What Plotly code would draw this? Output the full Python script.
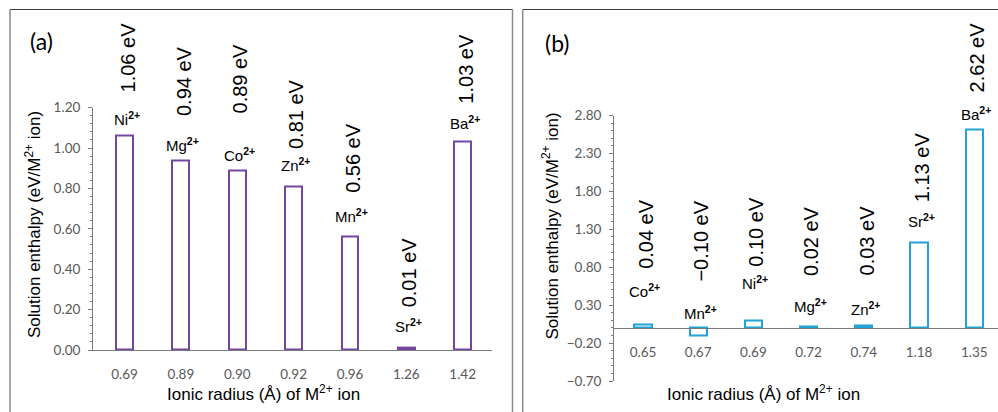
import plotly.graph_objects as go

W, H = 998, 412

# ---------------- data ----------------
ions_a = ["Ni", "Mg", "Co", "Zn", "Mn", "Sr", "Ba"]
radii_a = ["0.69", "0.89", "0.90", "0.92", "0.96", "1.26", "1.42"]
enthalpy_a = [1.06, 0.94, 0.89, 0.81, 0.56, 0.01, 1.03]

ions_b = ["Co", "Mn", "Ni", "Mg", "Zn", "Sr", "Ba"]
radii_b = ["0.65", "0.67", "0.69", "0.72", "0.74", "1.18", "1.35"]
enthalpy_b = [0.04, -0.10, 0.10, 0.02, 0.03, 1.13, 2.62]

# label offsets (pixels above bar end) for the ion names and value labels
ion_gap_a = [10, 8, 8, 14, 14, 15, 12]
val_gap_a = [42, 43, 56, 36, 43, 40, 37]
ion_gap_b = [27, 8, 30, 13, 10, 14, 8]
val_gap_b = [55, 45, 53, 49, 49, 39, 36]

PURPLE = "#7446A2"
BLUE = "#22A3D5"
AXIS = "#7a7a7a"
TICKC = "#595959"
TXT = "Liberation Sans, Arial, sans-serif"
TICKF = "Lato, Carlito, sans-serif"


def px(x):
    return x / W


def py(y):
    return 1 - y / H


fig = go.Figure()
fig.add_trace(go.Bar(x=radii_a, y=enthalpy_a, width=0.3,
                     marker=dict(color="white", line=dict(color=PURPLE, width=2)),
                     xaxis="x", yaxis="y", showlegend=False, hoverinfo="skip"))
fig.add_trace(go.Bar(x=radii_b, y=enthalpy_b, width=0.31,
                     marker=dict(color="white", line=dict(color=BLUE, width=2)),
                     xaxis="x2", yaxis="y2", showlegend=False, hoverinfo="skip"))

ann = []


def fmt(v):
    s = f"{abs(v):.2f} eV"
    return ("\u2212" + s) if v < 0 else s


def labels(ions, vals, ig, vg, xr, yr):
    for i, (ion, v, g1, g2) in enumerate(zip(ions, vals, ig, vg)):
        base = max(v, 0)
        ann.append(dict(x=i, y=base, xref=xr, yref=yr, showarrow=False,
                        text=f"{ion}<sup><b>2+</b></sup>", yanchor="bottom",
                        xanchor="center", yshift=g1 - 4, xshift=2,
                        font=dict(family=TXT, size=15, color="black")))
        ann.append(dict(x=i, y=base, xref=xr, yref=yr, showarrow=False,
                        text=fmt(v), textangle=-90, yanchor="bottom",
                        xanchor="center", yshift=g2 - 1, xshift=3,
                        font=dict(family=TXT, size=20, color="black")))


labels(ions_a, enthalpy_a, ion_gap_a, val_gap_a, "x", "y")
labels(ions_b, enthalpy_b, ion_gap_b, val_gap_b, "x2", "y2")

ytitle = "Solution enthalpy (eV/M<sup>2+</sup> ion)"
xtitle = "Ionic radius (\u00c5) of M<sup>2+</sup> ion"
for (x, y, t, ang, sz, fam) in [
    (33, 225, ytitle, -90, 17, TXT),
    (550, 226.5, ytitle, -90, 17, TXT),
    (263.5, 393, xtitle, 0, 17, TXT),
    (763.5, 393, xtitle, 0, 17, TXT),
    (41, 41, "(a)", 0, 23, TICKF),
    (557.5, 43, "(b)", 0, 23, TICKF),
]:
    ann.append(dict(x=px(x), y=py(y), xref="paper", yref="paper", text=t,
                    textangle=ang, showarrow=False, xanchor="center",
                    yanchor="middle", font=dict(family=fam, size=sz, color="black")))

shapes = [
    # panel (a) frame
    dict(type="line", xref="paper", yref="paper", x0=px(10), x1=px(512.5), y0=py(9.5), y1=py(9.5),
         line=dict(color="#3c3c3c", width=1)),
    dict(type="line", xref="paper", yref="paper", x0=px(10), x1=px(10), y0=py(9.5), y1=-0.05,
         line=dict(color="#8a8a8a", width=1.5)),
    dict(type="line", xref="paper", yref="paper", x0=px(512.5), x1=px(512.5), y0=py(9.5), y1=-0.05,
         line=dict(color="#8a8a8a", width=1.5)),
    # panel (b) frame
    dict(type="line", xref="paper", yref="paper", x0=px(522.7), x1=1.01, y0=py(9.5), y1=py(9.5),
         line=dict(color="#3c3c3c", width=1)),
    dict(type="line", xref="paper", yref="paper", x0=px(522.7), x1=px(522.7), y0=py(9.5), y1=-0.05,
         line=dict(color="#8a8a8a", width=1.5)),
]

common_y = dict(showline=True, linecolor=AXIS, linewidth=1, ticks="outside", ticklen=4,
                tickcolor=AXIS, tickwidth=1, showgrid=False, zeroline=False,
                tickformat=".2f", tickfont=dict(family=TICKF, size=13.5, color=TICKC),
                ticklabelstandoff=5)
common_x = dict(type="category", showline=True, linecolor=AXIS, linewidth=1, ticks="",
                showgrid=False, zeroline=False,
                tickfont=dict(family=TICKF, size=13.5, color=TICKC), ticklabelstandoff=12)

fig.update_layout(
    width=W, height=H, margin=dict(l=0, r=0, t=0, b=0, autoexpand=False),
    paper_bgcolor="white", plot_bgcolor="white", bargap=0,
    xaxis=dict(domain=[px(93), px(492)], range=[-0.56, 6.52], anchor="y", **common_x),
    yaxis=dict(domain=[py(350), py(107.6)], range=[0, 1.2], dtick=0.2, tick0=0, anchor="x",
               minor=dict(dtick=0.04, ticks="outside", ticklen=2.5, tickcolor=AXIS), **common_y),
    xaxis2=dict(domain=[px(614), 1.0], range=[-0.525, 6.43], anchor="free",
                position=py(327.9), **common_x),
    yaxis2=dict(domain=[py(381), py(115.5)], range=[-0.7, 2.8], dtick=0.5, tick0=0.3, anchor="x2",
                minor=dict(dtick=0.1, ticks="outside", ticklen=2.5, tickcolor=AXIS), **common_y),
    annotations=ann, shapes=shapes,
)

fig.write_html("out.html")
